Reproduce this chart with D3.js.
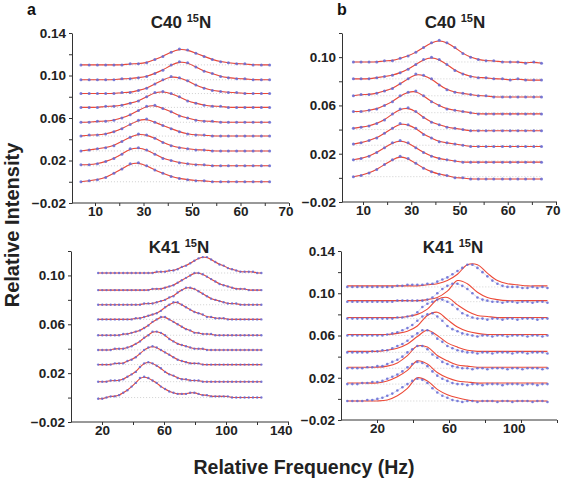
<!DOCTYPE html>
<html>
<head>
<meta charset="utf-8">
<script src="https://cdn.jsdelivr.net/npm/d3@7/dist/d3.min.js"></script>
<style>
 body{margin:0;background:#fff;}
 svg text{font-family:"Liberation Sans",Arial,Helvetica,sans-serif;}
</style>
</head>
<body>
<svg id="chart" width="562" height="481"></svg>
<script>
// ---------------- DATA ----------------
// intensities of the points are given in units of 0.001 above each trace's baseline
const unit = 0.001;

// x tick labels
const xTicksC40 = [10, 30, 50, 60, 70];
const xMinorC40 = [20, 40, 55, 65];
const xTicksK41a = [20, 60, 100, 140];
const xMinorK41a = [40, 80, 120];
const xTicksK41b = [20, 60, 100];
const xMinorK41b = [40, 80, 120];

// y ticks / labels
const yTicksA_C40 = [-0.02, 0, 0.02, 0.04, 0.06, 0.08, 0.10, 0.12, 0.14];
const yLabelsA_C40 = [-0.02, 0.02, 0.06, 0.10, 0.14];
const yTicksB_C40 = [-0.02, 0, 0.02, 0.04, 0.06, 0.08, 0.10, 0.12];
const yLabelsB_C40 = [-0.02, 0.02, 0.06, 0.10];
const yTicksA_K41 = [-0.02, 0, 0.02, 0.04, 0.06, 0.08, 0.10, 0.12];
const yLabelsA_K41 = [-0.02, 0.02, 0.06, 0.10];
const yTicksB_K41 = [-0.02, 0, 0.02, 0.04, 0.06, 0.08, 0.10, 0.12, 0.14];
const yLabelsB_K41 = [-0.02, 0.02, 0.06, 0.10, 0.14];

// frequencies (Hz) of the sampled points
const freqC40a = [4.2,7.6,11.0,14.4,17.8,21.1,24.5,27.9,31.3,34.7,38.0,41.4,44.8,48.2,50.8,52.5,54.2,55.9,57.5,59.2,60.9,62.6,64.3,66.0];
const freqC40b = [6.0,9.2,12.5,15.7,18.9,22.2,25.4,28.7,31.9,35.1,38.4,41.6,44.8,48.1,50.7,52.3,53.9,55.5,57.1,58.9,60.5,62.1,63.7,65.4,67.0];
const freqK41a = [17.5,20.2,22.9,25.6,28.3,31.0,33.7,36.4,39.1,41.8,44.5,47.2,49.9,52.6,55.3,58.0,60.7,63.4,66.1,68.8,71.5,74.2,76.9,79.6,82.3,85.0,87.7,90.4,93.1,95.8,98.5,101.2,103.9,106.6,109.3,112.0,114.7,117.4,120.1,122.8];
const freqK41b = [3.5,6.3,9.1,11.8,14.6,17.4,20.2,23.0,25.7,28.5,31.3,34.1,36.9,39.6,42.4,45.2,48.0,50.8,53.5,56.3,59.1,61.9,64.7,67.4,70.2,73.0,75.8,78.6,81.3,84.1,86.9,89.7,92.5,95.2,98.0,100.8,103.6,106.4,109.1,111.9,114.7];
const freqFitK41b = [3.5,9.1,14.6,20.2,25.7,31.3,36.9,42.4,48.0,53.5,59.1,64.7,70.2,75.8,81.3,86.9,92.5,98.0,103.6,109.1,114.7];

// baselines of the stacked traces (top to bottom)
const baseC40a = [0.110,0.096,0.083,0.070,0.056,0.043,0.029,0.015,0.000];
const baseC40b = [0.096,0.082,0.068,0.054,0.040,0.027,0.014,0.001];
const baseK41a = [0.102,0.088,0.076,0.064,0.051,0.039,0.027,0.013,0.000];
const baseK41b = [0.106,0.092,0.076,0.060,0.044,0.029,0.014,-0.002];

// measured points (x0.001 above baseline)
const dotsC40a = [
 [0,0,0,0,0,0,1,1,2,5,8,12,15,14,11,8,5,3,2,1,1,0,0,0],
 [0,0,0,0,0,1,1,2,3,6,9,14,17,16,12,8,6,3,2,1,1,0,0,0],
 [0,0,0,0,0,1,1,3,5,9,13,16,15,12,8,5,3,2,1,1,0,0,0,0],
 [0,0,0,1,1,2,4,6,10,14,15,13,10,6,4,2,1,1,0,0,0,0,0,0],
 [0,0,1,1,2,4,7,11,15,16,13,10,6,4,2,1,1,0,0,0,0,0,0,0],
 [0,1,1,2,4,7,11,15,16,13,10,7,4,2,1,1,0,0,0,0,0,0,0,0],
 [0,1,2,3,5,9,13,16,15,12,8,5,3,2,1,1,0,0,0,0,0,0,0,0],
 [1,1,2,4,7,11,16,17,15,11,7,5,3,2,1,1,0,0,0,0,0,0,0,0],
 [0,1,2,4,8,12,17,18,15,11,8,5,3,2,1,1,0,0,0,0,0,0,0,0]
];
const dotsC40b = [
 [0,0,0,0,1,1,3,5,8,12,16,18,16,12,7,4,2,1,1,0,0,0,-1,0,-1],
 [0,0,0,1,2,3,5,8,12,16,18,16,12,7,4,2,1,1,0,0,-1,0,-1,-1,-1],
 [0,1,1,2,4,6,10,14,18,17,14,9,5,3,2,1,0,0,-1,-1,-1,-1,-1,-1,-1],
 [1,1,2,3,6,9,14,17,18,14,9,6,3,2,1,0,-1,-1,-1,-1,-1,-1,-1,-1,-1],
 [1,2,3,5,8,13,17,18,15,10,6,4,2,1,0,-1,-1,-1,-1,-1,-1,-1,-1,-1,-1],
 [1,2,4,6,10,14,18,17,14,9,6,3,2,1,0,-1,-1,-1,-1,-1,-1,-1,-1,-1,-1],
 [1,2,4,7,11,15,17,15,11,7,4,2,1,0,-1,-1,-1,-1,-1,-1,-1,-1,-1,-1,-1],
 [0,1,3,6,10,14,17,15,11,7,4,2,1,-1,-1,-2,-2,-2,-2,-2,-2,-2,-2,-2,-2]
];
const dotsK41a = [
 [0,0,0,0,0,0,0,0,0,0,0,0,0,0,1,1,1,2,2,3,5,6,8,10,12,13,13,11,9,7,6,4,3,2,1,1,1,1,0,0],
 [0,0,0,0,0,0,0,0,0,0,0,0,0,1,1,1,2,3,4,6,8,10,12,14,14,13,11,9,7,5,4,3,2,1,1,1,0,0,0,0],
 [0,0,0,0,0,0,0,0,0,0,0,1,1,1,2,3,4,6,7,10,12,14,14,13,11,9,7,5,4,3,2,1,1,1,0,0,0,0,0,0],
 [0,0,0,0,0,0,0,0,0,1,1,2,3,4,5,7,10,12,14,14,12,10,8,6,5,4,2,2,1,1,1,0,0,0,0,0,0,0,0,0],
 [0,0,0,0,0,0,1,1,2,3,4,6,8,11,13,15,15,13,11,9,7,5,4,2,2,1,1,1,0,0,0,0,0,0,0,0,0,0,0,0],
 [0,0,0,0,1,1,1,2,3,5,7,10,12,15,15,14,12,9,7,5,4,3,2,1,1,1,0,0,0,0,0,0,0,0,0,0,0,0,0,0],
 [0,0,0,0,1,1,1,3,4,6,9,12,14,15,14,12,10,8,6,4,3,2,1,1,1,0,0,0,0,0,0,0,0,0,0,0,0,0,0,0],
 [0,0,0,1,1,1,2,4,6,8,12,15,16,15,13,11,8,6,5,3,2,2,1,1,1,0,0,0,0,0,0,0,0,0,0,0,0,0,0,0],
 [-1,-1,0,1,1,2,4,6,9,12,16,17,16,14,12,9,7,5,4,3,3,3,4,4,3,2,2,1,1,1,1,1,0,0,0,0,0,0,0,0]
];
const dotsK41b = [
 [0,0,0,0,0,0,0,0,0,0,1,1,2,2,2,2,3,3,5,7,9,12,15,18,21,21,18,14,10,6,3,1,0,0,0,-1,-1,0,-1,0,-1],
 [0,0,0,0,0,0,0,0,0,0,1,1,1,1,1,1,2,4,8,12,15,17,17,15,12,8,4,2,1,0,0,-1,0,0,-1,0,0,-1,0,0,-1],
 [0,0,0,0,0,0,0,0,0,0,1,1,2,3,6,11,14,16,18,18,16,13,9,5,3,1,0,0,-1,0,0,-1,0,0,-1,0,0,0,-1,0,0],
 [0,0,0,0,0,0,0,0,1,2,3,5,7,10,14,18,20,21,18,14,9,6,4,2,1,0,-1,0,0,-1,0,0,-1,0,0,0,-1,0,0,-1,0],
 [0,0,0,0,0,1,1,2,2,4,6,8,11,15,18,21,21,18,13,10,6,4,2,1,0,0,-1,0,0,-1,0,0,0,-1,0,0,-1,0,0,0,-1],
 [0,0,0,0,1,1,2,2,4,6,8,11,15,18,21,21,18,13,10,6,4,2,1,0,0,-1,0,0,-1,0,0,0,-1,0,0,-1,0,0,0,-1,0],
 [0,0,0,1,1,2,2,3,5,7,9,12,16,19,21,20,17,12,8,5,3,1,0,0,-1,0,0,-1,0,0,0,-1,0,0,0,-1,0,0,-1,0,0],
 [0,0,0,0,1,1,2,3,5,7,10,13,16,19,21,20,17,12,8,5,3,1,0,-1,0,0,-1,0,0,0,-1,0,0,-1,0,0,0,-1,0,0,-1]
];
// fitted line-shapes for panel b K41 (x0.001 above baseline)
const fitK41b = [
 [1,1,1,1,1,1,1,1,2,3,6,12,21,21,13,6,3,2,1,1,1],
 [1,1,1,1,1,1,1,1,2,4,10,20,17,9,4,2,1,1,1,1,1],
 [1,1,1,1,1,1,2,4,9,18,20,13,7,3,2,1,1,1,1,1,1],
 [1,1,1,1,1,2,4,9,19,22,15,8,4,2,1,1,1,1,1,1,1],
 [1,1,1,1,2,4,8,15,21,16,9,5,2,1,1,1,1,1,1,1,1],
 [1,1,1,1,2,5,12,21,20,12,7,3,2,1,1,1,1,1,1,1,1],
 [1,1,1,1,3,7,13,22,19,11,6,3,2,1,1,1,1,1,1,1,1],
 [0,0,0,0,1,5,12,22,19,11,6,3,1,0,0,0,0,0,0,0,0]
];

// ---------------- LAYOUT ----------------
const RED = '#ec4a38', DOT = '#6468d4', DOTLINE = '#cdd0f4', AXIS = '#333';
const panels = [
 {letter:'a', title:'C40', freq:freqC40a, base:baseC40a, dots:dotsC40a, fit:null, fitFreq:null, r:1.5,
  xDomain:xTicksC40, xRange:d3.quantize(d3.interpolateNumber(95,289),5), xMajor:xTicksC40, xMinor:xMinorC40,
  left:72, right:289, top:33, bottom:203, yDomain:[-0.02,0.14], yTicks:yTicksA_C40, yLabels:yLabelsA_C40,
  titleX:181, titleY:28, letterX:27, letterY:15},
 {letter:'b', title:'C40', freq:freqC40b, base:baseC40b, dots:dotsC40b, fit:null, fitFreq:null, r:1.5,
  xDomain:xTicksC40, xRange:d3.quantize(d3.interpolateNumber(363,556),5), xMajor:xTicksC40, xMinor:xMinorC40,
  left:342, right:557, top:33, bottom:202, yDomain:[-0.02,0.12], yTicks:yTicksB_C40, yLabels:yLabelsB_C40,
  titleX:455, titleY:28, letterX:337, letterY:15},
 {letter:null, title:'K41', freq:freqK41a, base:baseK41a, dots:dotsK41a, fit:null, fitFreq:null, r:1.2,
  xDomain:[0,140], xRange:[71,288], xMajor:xTicksK41a, xMinor:xMinorK41a,
  left:71, right:289, top:251, bottom:422, yDomain:[-0.02,0.12], yTicks:yTicksA_K41, yLabels:yLabelsA_K41,
  titleX:179, titleY:253},
 {letter:null, title:'K41', freq:freqK41b, base:baseK41b, dots:dotsK41b, fit:fitK41b, fitFreq:freqFitK41b, r:1.3,
  xDomain:[0,120], xRange:[341,557], xMajor:xTicksK41b, xMinor:xMinorK41b,
  left:341, right:557, top:251, bottom:420, yDomain:[-0.02,0.14], yTicks:yTicksB_K41, yLabels:yLabelsB_K41,
  titleX:453, titleY:253}
];

const svg = d3.select('#chart');
svg.append('rect').attr('width',562).attr('height',481).attr('fill','#fff');
const fmt = d3.format('.2f');
const has = (arr, v) => arr.some(a => Math.abs(a - v) < 1e-9);

panels.forEach(p => {
  const x = d3.scaleLinear().domain(p.xDomain).range(p.xRange);
  const y = d3.scaleLinear().domain(p.yDomain).range([p.bottom, p.top]);
  const g = svg.append('g');

  // y axis
  const ya = g.append('g').attr('transform', `translate(${p.left},0)`)
    .call(d3.axisLeft(y).tickValues(p.yTicks).tickSize(3).tickSizeOuter(0).tickPadding(3)
      .tickFormat(d => has(p.yLabels, d) ? fmt(d) : ''));
  ya.select('.domain').attr('stroke', AXIS);
  ya.selectAll('.tick line').attr('stroke', AXIS);
  ya.selectAll('text').attr('font-size', 13.5).attr('font-weight', 'bold').attr('fill', '#222')
    .attr('font-family', '"Liberation Sans", Arial, sans-serif');

  // x axis
  const allX = p.xMajor.concat(p.xMinor);
  const lastMajor = p.xMajor[p.xMajor.length - 1];
  const xa = g.append('g').attr('transform', `translate(0,${p.bottom})`)
    .call(d3.axisBottom(x).tickValues(allX).tickSize(3).tickSizeOuter(0).tickPadding(0)
      .tickFormat(d => has(p.xMajor, d) ? String(d) : ''));
  xa.select('.domain').remove();
  xa.selectAll('.tick line').attr('stroke', AXIS);
  xa.selectAll('text').attr('font-size', 13.5).attr('font-weight', 'bold').attr('fill', '#222')
    .attr('font-family', '"Liberation Sans", Arial, sans-serif');
  xa.selectAll('.tick').filter(d => d === lastMajor).select('text')
    .attr('text-anchor', 'end').attr('x', 4);
  g.append('line').attr('x1', p.left).attr('x2', p.right).attr('y1', p.bottom).attr('y2', p.bottom)
    .attr('stroke', AXIS);

  // dotted baselines
  p.base.forEach(b => {
    g.append('line')
      .attr('x1', x(p.freq[0])).attr('x2', x(p.freq[p.freq.length - 1]))
      .attr('y1', y(b)).attr('y2', y(b))
      .attr('stroke', '#c4c4c4').attr('stroke-width', 0.8).attr('stroke-dasharray', '1,2');
  });

  const lineLin = d3.line().x(d => x(d[0])).y(d => y(d[1]));
  p.dots.forEach((vals, k) => {
    const pts = p.freq.map((f, i) => [f, p.base[k] + vals[i] * unit]);
    // faint connection of points
    g.append('path').attr('d', lineLin(pts)).attr('fill', 'none')
      .attr('stroke', DOTLINE).attr('stroke-width', 0.8);
    // fitted curve
    let fitPath;
    if (p.fit) {
      const fp = p.fitFreq.map((f, j) => [f, p.base[k] + p.fit[k][j] * unit]);
      fitPath = d3.line().x(d => x(d[0])).y(d => y(d[1])).curve(d3.curveCatmullRom.alpha(0.5))(fp);
    } else {
      fitPath = d3.line().x(d => x(d[0])).y(d => y(d[1])).curve(d3.curveBasis)(pts);
    }
    g.append('path').attr('d', fitPath).attr('fill', 'none')
      .attr('stroke', RED).attr('stroke-width', 1.1);
    // points
    g.selectAll(null).data(pts).enter().append('circle')
      .attr('cx', d => x(d[0])).attr('cy', d => y(d[1])).attr('r', p.r)
      .attr('fill', DOT).attr('fill-opacity', 0.85);
  });

  // title
  const t = g.append('text').attr('x', p.titleX).attr('y', p.titleY).attr('text-anchor', 'middle')
    .attr('font-weight', 'bold').attr('font-size', 17).attr('fill', '#222');
  t.append('tspan').text(p.title + ' ');
  t.append('tspan').attr('font-size', 11).attr('dy', -6).text('15');
  t.append('tspan').attr('dy', 6).text('N');

  if (p.letter) {
    g.append('text').attr('x', p.letterX).attr('y', p.letterY).attr('font-weight', 'bold')
      .attr('font-size', 16).attr('fill', '#111').text(p.letter);
  }
});

// axis titles
svg.append('text').attr('transform', 'translate(19,225) rotate(-90)').attr('text-anchor', 'middle')
  .attr('font-weight', 'bold').attr('font-size', 20).attr('fill', '#222').text('Relative Intensity');
svg.append('text').attr('x', 304).attr('y', 474).attr('text-anchor', 'middle')
  .attr('font-weight', 'bold').attr('font-size', 19.5).attr('fill', '#222').text('Relative Frequency (Hz)');
</script>
</body>
</html>
